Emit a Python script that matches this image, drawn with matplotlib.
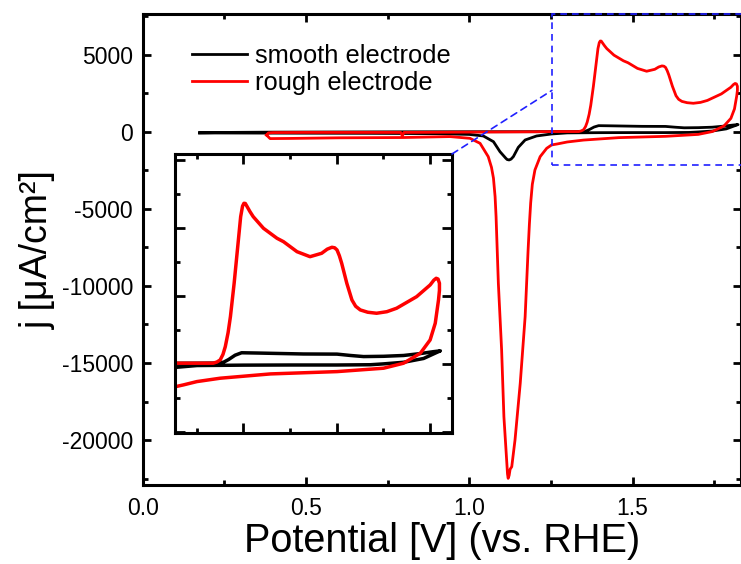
import matplotlib.pyplot as plt
from matplotlib.patches import Rectangle, ConnectionPatch
from matplotlib.ticker import MultipleLocator

plt.rcParams['font.family'] = ['Liberation Sans', 'DejaVu Sans']
plt.rcParams['axes.unicode_minus'] = False

# smooth electrode CV: potential [V vs RHE], current density [uA/cm2]
smooth_v = [0.174, 0.25, 0.4, 0.6, 0.8, 1.0, 1.2, 1.3, 1.34, 1.357, 1.368, 1.382, 1.396, 1.43,
            1.458, 1.529, 1.601, 1.63, 1.658, 1.701, 1.744, 1.78, 1.808, 1.823,
            1.815, 1.787, 1.744, 1.70, 1.673, 1.6, 1.5, 1.4, 1.3, 1.252, 1.206, 1.171, 1.15,
            1.135, 1.128, 1.122, 1.116, 1.112, 1.094, 1.074, 1.043, 1.0, 0.9, 0.7, 0.5, 0.3,
            0.2, 0.174]
smooth_j = [-60, -30, -10, 0, 10, 15, 20, 25, 30, 60, 160, 320, 410, 400,
            390, 365, 360, 310, 270, 280, 310, 380, 450, 480,
            420, 200, 60, 0, -30, -40, -40, -45, -60, -130, -260, -520, -1000,
            -1600, -1760, -1818, -1790, -1710, -1280, -630, -260, -160, -110, -90, -80, -70,
            -65, -60]

# rough electrode CV
rough_v = [0.379, 0.385, 0.40, 0.5, 0.7, 0.79, 0.795, 0.80, 0.9, 1.0, 1.1, 1.2, 1.255, 1.3,
           1.335, 1.343, 1.35, 1.356, 1.361, 1.367, 1.372, 1.380, 1.387, 1.394, 1.398, 1.401,
           1.404, 1.408, 1.414, 1.421, 1.443, 1.472, 1.486, 1.515, 1.543, 1.568, 1.580, 1.590,
           1.596, 1.601, 1.606, 1.611, 1.622, 1.633, 1.641, 1.651, 1.667, 1.686, 1.708, 1.729,
           1.772, 1.801, 1.809, 1.814, 1.818, 1.821,
           1.821, 1.819, 1.812, 1.801, 1.780, 1.744, 1.701, 1.601, 1.458, 1.350, 1.300, 1.271,
           1.252, 1.237, 1.217, 1.201, 1.193, 1.188, 1.184, 1.180, 1.171, 1.156, 1.140, 1.130,
           1.125, 1.122, 1.119, 1.117, 1.115, 1.106, 1.099, 1.089, 1.082, 1.079, 1.074, 1.068,
           1.058, 1.033, 1.002, 0.941, 0.8, 0.6, 0.45, 0.39, 0.379]
rough_j = [-200, -60, -40, -30, -30, -30, -250, -30, -20, -10, 0, 10, 26, 26,
           26, 70, 147, 350, 636, 1150, 1738, 2966, 4190, 5414, 5800, 5906,
           5900, 5781, 5600, 5414, 4987, 4620, 4495, 4127, 3943, 4068, 4220, 4289,
           4270, 4190, 3980, 3701, 2966, 2352, 2120, 1985, 1900, 1863, 1920, 2047,
           2473, 2903, 3080, 3149, 3120, 2966,
           2700, 2352, 1496, 882, 393, 26, -158, -283, -368, -526, -650, -772,
           -844, -1061, -1602, -2468, -3400, -4600, -6000, -7700, -11995, -16320, -20001, -21735,
           -21900, -22300, -22489, -22200, -21516, -18489, -14157, -9826, -5500, -4200, -3000, -2300,
           -1602, -737, -412, -300, -360, -380, -420, -430, -200]

# zoomed region shown in the inset
zoom_v0, zoom_j0 = 1.253, -2140
zoom_link_j = 2700

fig = plt.figure(figsize=(7.41, 5.64), dpi=100)
ax = fig.add_axes([0.1926, 0.1401, 0.8074, 0.8351])
ax.plot(smooth_v, smooth_j, color='black', lw=2, solid_joinstyle='round', label='smooth electrode')
ax.plot(rough_v, rough_j, color='red', lw=2, solid_joinstyle='round', label='rough electrode')
ax.set_xlim(0, 1.832)
ax.set_ylim(-22920, 7660)
ax.xaxis.set_major_locator(MultipleLocator(0.5))
ax.xaxis.set_minor_locator(MultipleLocator(0.25))
ax.yaxis.set_major_locator(MultipleLocator(5000))
ax.yaxis.set_minor_locator(MultipleLocator(2500))
ax.xaxis.set_major_formatter(lambda v, p: f'{v:.1f}')
ax.tick_params(which='both', direction='in', top=True, right=True, width=2, labelsize=16.5)
ax.tick_params(which='major', length=6)
ax.tick_params(which='minor', length=3.5)
ax.tick_params(axis='x', pad=9)
ax.tick_params(axis='y', pad=7)
for s in ax.spines.values():
    s.set_linewidth(2.2)
ax.set_xlabel('Potential [V] (vs. RHE)', fontsize=28.5, labelpad=1)
ax.set_ylabel('j [μA/cm²]', fontsize=27, labelpad=4)

ax.legend(loc='upper left', bbox_to_anchor=(0.0824, 0.937), frameon=False, fontsize=18.4,
          handlelength=2.15, handletextpad=0.32, labelspacing=0.12, borderpad=0, borderaxespad=0)

# dashed zoom box
top = ax.get_ylim()[1]
box = Rectangle((zoom_v0, zoom_j0), 1.0, top - zoom_j0, fill=False, ec='#2020ff',
                ls=(0, (4, 3)), lw=1.2, clip_on=False, zorder=5)
ax.add_patch(box)

# inset
ins = fig.add_axes([0.2362, 0.2323, 0.3738, 0.4947])
ins.plot(smooth_v, smooth_j, color='black', lw=2.5, solid_joinstyle='round')
ins.plot(rough_v, rough_j, color='red', lw=2.5, solid_joinstyle='round')
ins.set_xlim(1.253, 1.848)
ins.set_ylim(-2540, 7720)
ins.xaxis.set_major_locator(MultipleLocator(0.2))
ins.xaxis.set_minor_locator(MultipleLocator(0.1))
ins.yaxis.set_major_locator(MultipleLocator(2500))
ins.yaxis.set_minor_locator(MultipleLocator(1250))
ins.tick_params(which='both', direction='in', top=True, right=True, width=2,
                labelbottom=False, labelleft=False)
ins.tick_params(which='major', length=7)
ins.tick_params(which='minor', length=3.5)
for s in ins.spines.values():
    s.set_linewidth(2.2)

con = ConnectionPatch(xyA=(1, 1), coordsA=ins.transAxes, xyB=(zoom_v0, zoom_link_j),
                      coordsB=ax.transData, color='#2020ff', ls=(0, (4, 3)), lw=1.2, zorder=5)
fig.add_artist(con)

fig.savefig('out.png', dpi=100)
